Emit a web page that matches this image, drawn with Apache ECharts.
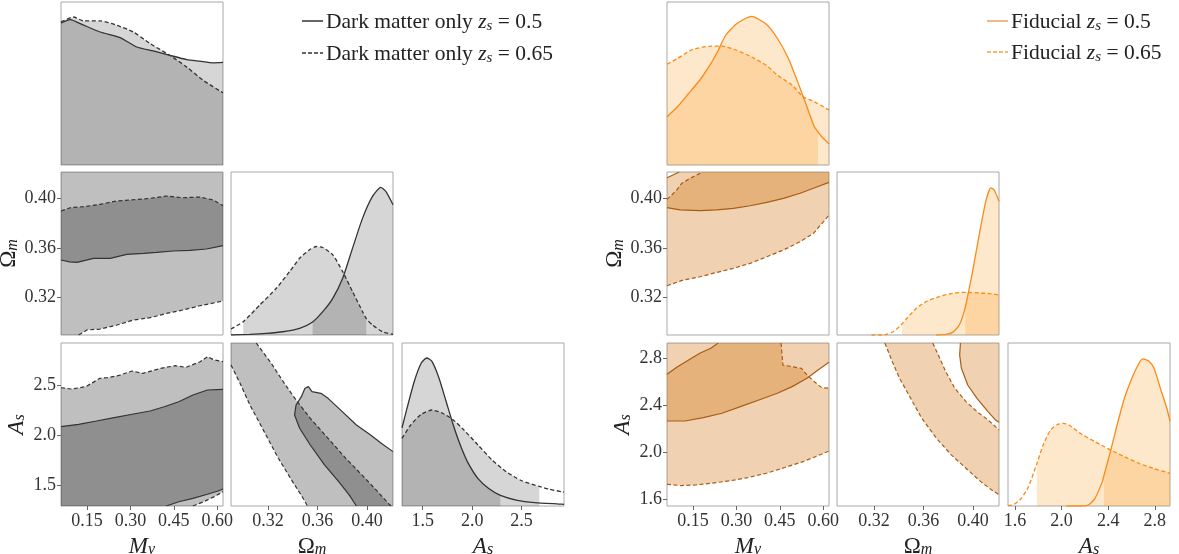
<!DOCTYPE html>
<html><head><meta charset="utf-8">
<script src="https://cdn.jsdelivr.net/npm/echarts@6/dist/echarts.min.js"></script>
<style>html,body{margin:0;padding:0;background:#fff}#c{width:1179px;height:554px}</style>
</head><body><div id="c"></div>
<script>
const FONT = "'Liberation Serif','Times New Roman',serif";

// ---- axis ranges & ticks ----
const mvRange = [0.06, 0.62];
const omRange = [0.29, 0.421];
const asRangeL = [1.29, 2.93];
const asRangeR = [1.54, 2.93];
const pdfRange = [0, 1];
const mvTicks = [0.15, 0.30, 0.45, 0.60];
const omTicks = [0.32, 0.36, 0.40];
const asTicksL = [1.5, 2.0, 2.5];
const asTicksR = [1.6, 2.0, 2.4, 2.8];

// ---- LEFT: Dark matter only (solid zs=0.5, dashed zs=0.65) ----
const L_mv_solid = [[0.06,0.871],[0.092,0.892],[0.132,0.863],[0.195,0.816],[0.264,0.782],[0.322,0.724],[0.379,0.70],[0.436,0.673],[0.494,0.647],[0.54,0.637],[0.586,0.627],[0.62,0.629]];
const L_mv_dashed = [[0.06,0.878],[0.1036,0.908],[0.138,0.884],[0.195,0.884],[0.253,0.857],[0.31,0.816],[0.368,0.745],[0.436,0.673],[0.494,0.602],[0.551,0.52],[0.62,0.443]];
const L_mv_solidCI = [0.06, 0.62];
const L_mv_dashedCI = [0.06, 0.62];

const L_om_solid = [[0.29,0.0],[0.3053,0.004],[0.3187,0.010],[0.332,0.020],[0.3455,0.041],[0.356,0.08],[0.3642,0.143],[0.3723,0.225],[0.3803,0.348],[0.3883,0.533],[0.3964,0.717],[0.4044,0.850],[0.4111,0.906],[0.4152,0.881],[0.421,0.799]];
const L_om_dashed = [[0.29,0.037],[0.2999,0.082],[0.3133,0.184],[0.3267,0.287],[0.3374,0.389],[0.3455,0.471],[0.3535,0.523],[0.3589,0.543],[0.3642,0.537],[0.3723,0.492],[0.3803,0.389],[0.3883,0.266],[0.3964,0.143],[0.3994,0.10],[0.4044,0.061],[0.4125,0.020],[0.421,0.004]];
const L_om_solidCI = [0.356, 0.421];
const L_om_dashedCI = [0.2999, 0.3994];

const L_as_solid = [[1.29,0.48],[1.341,0.60],[1.414,0.764],[1.485,0.877],[1.54,0.908],[1.593,0.887],[1.665,0.784],[1.737,0.641],[1.809,0.497],[1.88,0.374],[1.953,0.271],[2.06,0.168],[2.168,0.107],[2.286,0.065],[2.456,0.035],[2.635,0.021],[2.88,0.012],[2.93,0.01]];
const L_as_dashed = [[1.29,0.415],[1.378,0.497],[1.485,0.563],[1.593,0.589],[1.701,0.569],[1.809,0.528],[1.917,0.466],[2.06,0.374],[2.204,0.281],[2.348,0.209],[2.491,0.158],[2.68,0.12],[2.779,0.103],[2.93,0.085]];
const L_as_solidCI = [1.29, 2.286];
const L_as_dashedCI = [1.29, 2.68];

const L_mvom_solid = [[0.06,0.3503],[0.09,0.3488],[0.115,0.3484],[0.172,0.3516],[0.23,0.3516],[0.287,0.3548],[0.345,0.3556],[0.39,0.3564],[0.448,0.3575],[0.505,0.358],[0.563,0.3591],[0.62,0.3618]];
const L_mvom_dashedUp = [[0.06,0.3897],[0.092,0.3923],[0.138,0.3931],[0.195,0.395],[0.253,0.3977],[0.31,0.3987],[0.368,0.3998],[0.425,0.4017],[0.482,0.4003],[0.54,0.4009],[0.586,0.3985],[0.62,0.3939]];
const L_mvom_dashedLo = [[0.121,0.29],[0.1495,0.294],[0.195,0.2948],[0.253,0.298],[0.31,0.302],[0.368,0.3039],[0.425,0.3074],[0.482,0.3101],[0.54,0.3135],[0.62,0.3173]];

const L_mvas_solidUp = [[0.06,2.088],[0.121,2.112],[0.1825,2.145],[0.244,2.179],[0.306,2.213],[0.368,2.246],[0.417,2.289],[0.467,2.339],[0.516,2.407],[0.566,2.457],[0.62,2.464]];
const L_mvas_solidLo = [[0.424,1.29],[0.467,1.333],[0.516,1.367],[0.566,1.408],[0.603,1.441],[0.62,1.461]];
const L_mvas_dashedUp = [[0.06,2.48],[0.096,2.467],[0.145,2.49],[0.195,2.575],[0.22,2.581],[0.257,2.601],[0.306,2.648],[0.343,2.625],[0.405,2.675],[0.455,2.702],[0.492,2.685],[0.541,2.742],[0.566,2.792],[0.59,2.759],[0.62,2.742]];
const L_mvas_dashedLo = [[0.516,1.29],[0.553,1.333],[0.59,1.384],[0.62,1.434]];

const L_omas_dashedIn = [[0.3104,2.93],[0.3225,2.726],[0.334,2.508],[0.3426,2.357],[0.3541,2.172],[0.3685,1.971],[0.3828,1.77],[0.3972,1.585],[0.4087,1.434],[0.4172,1.316],[0.4195,1.29]];
const L_omas_dashedOut = [[0.29,2.709],[0.2967,2.541],[0.3053,2.306],[0.3168,2.038],[0.3283,1.77],[0.3398,1.535],[0.3484,1.366],[0.3518,1.29]];
const L_omas_solidLeft = [[0.3526,2.491],[0.3498,2.474],[0.3469,2.39],[0.3426,2.306],[0.3414,2.206],[0.3455,2.072],[0.3541,1.904],[0.3656,1.703],[0.3771,1.535],[0.3857,1.4],[0.3914,1.29]];
const L_omas_solidTop = [[0.3526,2.491],[0.3555,2.44],[0.3627,2.424],[0.3685,2.373],[0.38,2.239],[0.3914,2.105],[0.4029,2.005],[0.4115,1.921],[0.421,1.837]];

// ---- RIGHT: Fiducial ----
const R_mv_solid = [[0.06,0.296],[0.0963,0.357],[0.1347,0.439],[0.1731,0.52],[0.2115,0.622],[0.2372,0.704],[0.2628,0.796],[0.3009,0.867],[0.352,0.912],[0.4033,0.863],[0.4417,0.776],[0.4797,0.653],[0.5181,0.48],[0.5437,0.357],[0.5693,0.235],[0.582,0.204],[0.595,0.173],[0.62,0.129]];
const R_mv_dashed = [[0.06,0.618],[0.0963,0.653],[0.1476,0.708],[0.2115,0.729],[0.25,0.729],[0.3009,0.704],[0.352,0.663],[0.4033,0.612],[0.4417,0.551],[0.4925,0.49],[0.531,0.418],[0.5693,0.388],[0.62,0.337]];
const R_mv_solidCI = [0.06, 0.582];
const R_mv_dashedCI = [0.06, 0.62];

const R_om_solid = [[0.3701,0],[0.3782,0.004],[0.3835,0.016],[0.3889,0.061],[0.3937,0.17],[0.3996,0.389],[0.405,0.615],[0.4103,0.82],[0.4144,0.902],[0.417,0.891],[0.421,0.82]];
const R_om_dashed = [[0.3179,0],[0.3272,0],[0.33,0.004],[0.3353,0.02],[0.3406,0.051],[0.3426,0.068],[0.346,0.098],[0.3541,0.164],[0.3621,0.205],[0.3728,0.236],[0.3835,0.256],[0.3943,0.262],[0.405,0.258],[0.413,0.254],[0.421,0.246]];
const R_om_solidCI = [0.3937, 0.421];
const R_om_dashedCI = [0.3426, 0.421];

const R_as_solid = [[2.04,0],[2.127,0.0],[2.222,0.004],[2.285,0.045],[2.349,0.148],[2.364,0.189],[2.422,0.343],[2.476,0.497],[2.539,0.661],[2.603,0.784],[2.665,0.877],[2.697,0.903],[2.745,0.891],[2.792,0.846],[2.856,0.702],[2.903,0.6],[2.93,0.52]];
const R_as_dashed = [[1.541,0.004],[1.588,0.008],[1.652,0.045],[1.715,0.117],[1.778,0.24],[1.788,0.26],[1.841,0.374],[1.905,0.466],[1.968,0.501],[2.016,0.507],[2.064,0.497],[2.159,0.446],[2.285,0.395],[2.364,0.365],[2.422,0.343],[2.539,0.302],[2.665,0.261],[2.792,0.23],[2.93,0.2]];
const R_as_solidCI = [2.364, 2.93];
const R_as_dashedCI = [1.788, 2.93];

const R_mvom_solidLo = [[0.06,0.3923],[0.105,0.3905],[0.1742,0.3899],[0.232,0.3905],[0.2894,0.3918],[0.3472,0.3939],[0.405,0.3966],[0.4626,0.3998],[0.5202,0.4039],[0.5663,0.4079],[0.62,0.4127]];
const R_mvom_solidCorner = [[0.06,0.4164],[0.1026,0.421]];
const R_mvom_dashedUp = [[0.06,0.399],[0.0763,0.4025],[0.0936,0.4065],[0.1109,0.4119],[0.1396,0.4159],[0.1742,0.4199],[0.18,0.421]];
const R_mvom_dashedLo = [[0.06,0.3296],[0.1164,0.3342],[0.1742,0.3368],[0.232,0.3403],[0.2894,0.3436],[0.3472,0.3476],[0.405,0.3529],[0.4626,0.3583],[0.5202,0.365],[0.5663,0.3717],[0.6009,0.3811],[0.62,0.3864]];

const R_mvas_solidUp = [[0.06,2.663],[0.0963,2.728],[0.1348,2.785],[0.1732,2.842],[0.2115,2.885],[0.2371,2.93]];
const R_mvas_solidLo = [[0.06,2.265],[0.122,2.265],[0.186,2.294],[0.25,2.331],[0.3137,2.387],[0.3776,2.444],[0.4416,2.501],[0.4925,2.558],[0.5438,2.629],[0.5821,2.7],[0.62,2.765]];
const R_mvas_dashedUp = [[0.4542,2.93],[0.4607,2.742],[0.4925,2.728],[0.5247,2.714],[0.5438,2.657],[0.5693,2.6],[0.595,2.549],[0.62,2.544]];
const R_mvas_dashedLo = [[0.06,1.725],[0.1093,1.714],[0.1604,1.72],[0.2115,1.734],[0.2753,1.754],[0.3393,1.782],[0.4032,1.819],[0.467,1.868],[0.531,1.919],[0.5821,1.97],[0.62,2.009]];

const R_omas_dashedOut = [[0.3287,2.93],[0.3347,2.771],[0.3406,2.629],[0.3496,2.458],[0.3585,2.288],[0.3704,2.118],[0.3824,1.976],[0.3943,1.862],[0.4062,1.748],[0.4151,1.677],[0.421,1.635]];
const R_omas_dashedIn = [[0.3674,2.93],[0.3719,2.828],[0.3779,2.686],[0.3853,2.544],[0.3943,2.43],[0.4032,2.345],[0.4121,2.274],[0.421,2.189]];
const R_omas_solid = [[0.3898,2.93],[0.3892,2.828],[0.3906,2.714],[0.3957,2.572],[0.4032,2.458],[0.4121,2.345],[0.4181,2.274],[0.421,2.254]];

// ---- layout ----
const rowTop = [2, 172, 343];
const colLeft = { L: [61, 231, 402], R: [667, 837, 1008] };
const PW = 162, PH = 163;
const SIDES = {
  L: { ranges: [mvRange, omRange, asRangeL], ticks: [mvTicks, omTicks, asTicksL] },
  R: { ranges: [mvRange, omRange, asRangeR], ticks: [mvTicks, omTicks, asTicksR] }
};
const DEC = [2, 2, 1];
const NAMES = ['{i|M}{s|v}', '{u|Ω}{s|m}', '{i|A}{s|s}'];
const nameRich = {
  i: { fontFamily: FONT, fontStyle: 'italic', fontSize: 23, lineHeight: 26, verticalAlign: 'bottom', color: '#222' },
  u: { fontFamily: FONT, fontSize: 23, lineHeight: 26, verticalAlign: 'bottom', color: '#222' },
  s: { fontFamily: FONT, fontStyle: 'italic', fontSize: 16, lineHeight: 12, verticalAlign: 'bottom', color: '#222' }
};

const grids = [], xAxes = [], yAxes = [], series = [];
function panel(side, r, c) {
  const gi = grids.length;
  const S = SIDES[side];
  grids.push({ left: colLeft[side][c], top: rowTop[r], width: PW, height: PH, show: true,
    outerBoundsMode: 'none', containLabel: false,
    borderColor: '#a8a8a8', borderWidth: 1, backgroundColor: 'transparent' });
  const bottom = r === 2, leftLab = c === 0 && r > 0;
  xAxes.push({ gridIndex: gi, type: 'value', min: S.ranges[c][0], max: S.ranges[c][1],
    axisLine: { show: false }, splitLine: { show: false },
    axisTick: { show: bottom, customValues: S.ticks[c], length: 4, lineStyle: { color: '#666' } },
    axisLabel: { show: bottom, customValues: S.ticks[c], formatter: v => Number(v).toFixed(DEC[c]),
      fontFamily: FONT, fontSize: 18, color: '#333', margin: 6 },
    name: bottom ? NAMES[c] : '', nameLocation: 'middle', nameGap: 26, nameTextStyle: { rich: nameRich } });
  const yr = r === c ? pdfRange : S.ranges[r];
  const yt = r === c ? [] : S.ticks[r];
  yAxes.push({ gridIndex: gi, type: 'value', min: yr[0], max: yr[1],
    axisLine: { show: false }, splitLine: { show: false },
    axisTick: { show: leftLab, customValues: yt, length: 4, lineStyle: { color: '#666' } },
    axisLabel: { show: leftLab, customValues: yt, formatter: v => Number(v).toFixed(DEC[r]),
      fontFamily: FONT, fontSize: 18, color: '#333', margin: 5 },
    name: leftLab ? NAMES[r] : '', nameLocation: 'middle', nameGap: 33, nameRotate: 90,
    nameTextStyle: { rich: nameRich } });
  return gi;
}
const DASH = [4, 2.5];
function curveLine(gi, data, color, dashed) {
  series.push({ type: 'line', xAxisIndex: gi, yAxisIndex: gi, data, symbol: 'none', smooth: 0.2, silent: true, z: 4,
    lineStyle: { color, width: 1.3, type: dashed ? DASH : 'solid' } });
}
function fill1D(gi, data, ci, color) {
  const sub = data.filter(p => p[0] >= ci[0] - 1e-9 && p[0] <= ci[1] + 1e-9);
  series.push({ type: 'line', xAxisIndex: gi, yAxisIndex: gi, data: sub, symbol: 'none', smooth: 0.2, silent: true, z: 2,
    lineStyle: { width: 0 }, areaStyle: { color, opacity: 1 } });
}
function region(gi, pts, color) {
  series.push({ type: 'custom', xAxisIndex: gi, yAxisIndex: gi, coordinateSystem: 'cartesian2d', data: [pts[0]],
    clip: true, silent: true, z: 2,
    renderItem: (p, api) => ({ type: 'polygon', shape: { points: pts.map(q => api.coord(q)) }, style: { fill: color } }) });
}
function contour(gi, pts, color, dashed) {
  series.push({ type: 'line', xAxisIndex: gi, yAxisIndex: gi, data: pts, symbol: 'none', silent: true, z: 4,
    lineStyle: { color, width: 1.2, type: dashed ? DASH : 'solid' } });
}
const rev = a => a.slice().reverse();

// colours
const L_line = '#333333', L_fill1 = 'rgba(0,0,0,0.16)', L_fill2 = 'rgba(0,0,0,0.25)';
const R_line1 = '#fb8a14', R_line2 = '#a85c14', R_fill1 = 'rgba(250,140,0,0.2)', R_fill2 = 'rgba(205,105,0,0.3)';

function diag(side, k, solid, dashed, sCI, dCI, line, fill) {
  const gi = panel(side, k, k);
  fill1D(gi, solid, sCI, fill);
  fill1D(gi, dashed, dCI, fill);
  curveLine(gi, solid, line, false);
  curveLine(gi, dashed, line, true);
}

// LEFT
diag('L', 0, L_mv_solid, L_mv_dashed, L_mv_solidCI, L_mv_dashedCI, L_line, L_fill1);
let g = panel('L', 1, 0);
region(g, [...L_mvom_solid, [mvRange[1], omRange[1]], [mvRange[0], omRange[1]]], L_fill2);
region(g, [...L_mvom_dashedUp, ...rev(L_mvom_dashedLo), [mvRange[0], omRange[0]]], L_fill2);
contour(g, L_mvom_solid, L_line, false); contour(g, L_mvom_dashedUp, L_line, true); contour(g, L_mvom_dashedLo, L_line, true);
diag('L', 1, L_om_solid, L_om_dashed, L_om_solidCI, L_om_dashedCI, L_line, L_fill1);
g = panel('L', 2, 0);
region(g, [...L_mvas_solidUp, ...rev(L_mvas_solidLo), [mvRange[0], asRangeL[0]]], L_fill2);
region(g, [...L_mvas_dashedUp, ...rev(L_mvas_dashedLo), [mvRange[0], asRangeL[0]]], L_fill2);
contour(g, L_mvas_solidUp, L_line, false); contour(g, L_mvas_solidLo, L_line, false);
contour(g, L_mvas_dashedUp, L_line, true); contour(g, L_mvas_dashedLo, L_line, true);
g = panel('L', 2, 1);
region(g, [[omRange[0], asRangeL[1]], ...L_omas_dashedIn, ...rev(L_omas_dashedOut)], L_fill2);
const L_omas_solidAll = [...rev(L_omas_solidLeft), ...L_omas_solidTop.slice(1)];
region(g, [...L_omas_solidAll, [omRange[1], asRangeL[0]]], L_fill2);
contour(g, L_omas_dashedIn, L_line, true); contour(g, L_omas_dashedOut, L_line, true);
contour(g, L_omas_solidAll, L_line, false);
diag('L', 2, L_as_solid, L_as_dashed, L_as_solidCI, L_as_dashedCI, L_line, L_fill1);

// RIGHT
diag('R', 0, R_mv_solid, R_mv_dashed, R_mv_solidCI, R_mv_dashedCI, R_line1, R_fill1);
g = panel('R', 1, 0);
region(g, [...R_mvom_solidLo, [mvRange[1], omRange[1]], ...rev(R_mvom_solidCorner)], R_fill2);
region(g, [...R_mvom_dashedLo, [mvRange[1], omRange[1]], ...rev(R_mvom_dashedUp)], R_fill2);
contour(g, R_mvom_solidLo, R_line2, false); contour(g, R_mvom_solidCorner, R_line2, false);
contour(g, R_mvom_dashedLo, R_line2, true); contour(g, R_mvom_dashedUp, R_line2, true);
diag('R', 1, R_om_solid, R_om_dashed, R_om_solidCI, R_om_dashedCI, R_line1, R_fill1);
g = panel('R', 2, 0);
region(g, [...R_mvas_solidLo, [mvRange[1], asRangeR[1]], ...rev(R_mvas_solidUp)], R_fill2);
region(g, [...R_mvas_dashedLo, ...rev(R_mvas_dashedUp), [mvRange[0], asRangeR[1]]], R_fill2);
contour(g, R_mvas_solidLo, R_line2, false); contour(g, R_mvas_solidUp, R_line2, false);
contour(g, R_mvas_dashedLo, R_line2, true); contour(g, R_mvas_dashedUp, R_line2, true);
g = panel('R', 2, 1);
region(g, [...R_omas_dashedOut, ...rev(R_omas_dashedIn)], R_fill2);
region(g, [...R_omas_solid, [omRange[1], asRangeR[1]]], R_fill2);
contour(g, R_omas_dashedOut, R_line2, true); contour(g, R_omas_dashedIn, R_line2, true);
contour(g, R_omas_solid, R_line2, false);
diag('R', 2, R_as_solid, R_as_dashed, R_as_solidCI, R_as_dashedCI, R_line1, R_fill1);

// legend (graphic)
const legRich = {
  t: { fontFamily: FONT, fontSize: 21.5, lineHeight: 25, verticalAlign: 'bottom', fill: '#222' },
  m: { fontFamily: FONT, fontStyle: 'italic', fontSize: 21.5, lineHeight: 25, verticalAlign: 'bottom', fill: '#222' },
  s: { fontFamily: FONT, fontStyle: 'italic', fontSize: 15, lineHeight: 12, verticalAlign: 'bottom', fill: '#222' }
};
function legItem(x, y, color, dashed, label) {
  return [
    { type: 'line', shape: { x1: x, y1: y, x2: x + 21, y2: y }, style: { stroke: color, lineWidth: 1.5, lineDash: dashed ? [4, 2] : null } },
    { type: 'text', x: x + 24, y: y, style: { text: label, rich: legRich, verticalAlign: 'middle', align: 'left' } }
  ];
}
const graphic = [
  ...legItem(302, 21, '#333', false, '{t|Dark matter only }{m|z}{s|s}{t| = 0.5}'),
  ...legItem(302, 53, '#333', true, '{t|Dark matter only }{m|z}{s|s}{t| = 0.65}'),
  ...legItem(987, 21, '#e8a060', false, '{t|Fiducial }{m|z}{s|s}{t| = 0.5}'),
  ...legItem(987, 52, '#f5a040', true, '{t|Fiducial }{m|z}{s|s}{t| = 0.65}')
];

const chart = echarts.init(document.getElementById('c'), null, { renderer: 'canvas' });
chart.setOption({ animation: false, backgroundColor: '#fff', grid: grids, xAxis: xAxes, yAxis: yAxes, series, graphic });
</script></body></html>
